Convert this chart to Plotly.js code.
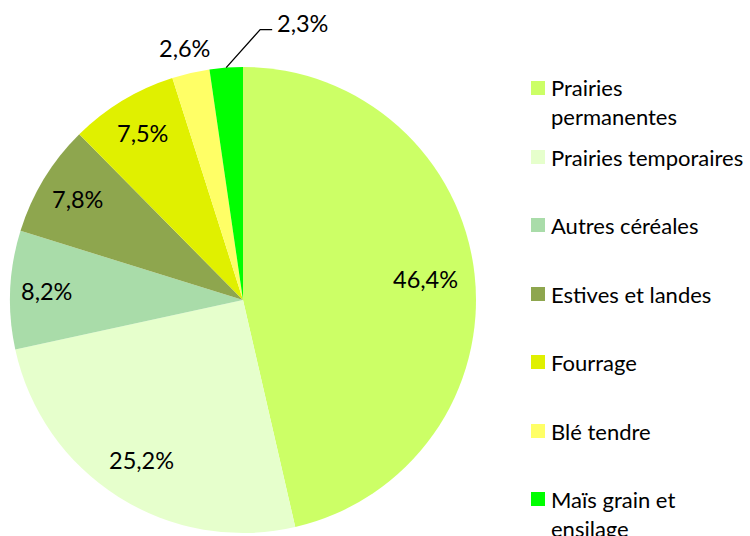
<!DOCTYPE html>
<html><head><meta charset="utf-8">
<script src="https://cdn.plot.ly/plotly-3.0.1.min.js"></script>
<style>body{margin:0;background:#fff}#c{width:750px;height:536px}</style>
</head><body><div id="c"></div>
<script>
const categories = ["Prairies permanentes","Prairies temporaires","Autres céréales","Estives et landes","Fourrage","Blé tendre","Maïs grain et ensilage"];
const legendLabels = ["Prairies<br>permanentes","Prairies temporaires","Autres céréales","Estives et landes","Fourrage","Blé tendre","Maïs grain et<br>ensilage"];
const shares = [46.4, 25.2, 8.2, 7.8, 7.5, 2.6, 2.3];
const colors = ["#CCFF66","#E6FFCC","#A9DCA9","#8EA64E","#E0F000","#FFFF66","#00FF00"];

// style: label radius as fraction of pie radius
const labelRadius = [0.79, 0.815, 0.845, 0.83, 0.835, 1.11, 1.0];
const W = 750, H = 536;
const cx = 243, cy = 300, R = 233;
const FONT = "Lato, 'Open Sans', sans-serif";

const total = shares.reduce((a,b)=>a+b,0);
const fmt = v => v.toFixed(1).replace('.', ',') + '%';

const annotations = [];
const shapes = [];
let cum = 0;
shares.forEach((v,i)=>{
  const mid = (cum + v/2)/total * 2*Math.PI;
  cum += v;
  let r = labelRadius[i]*R;
  let x = cx + r*Math.sin(mid), y = cy - r*Math.cos(mid);
  let xa = 'center';
  if (i === shares.length-1) {
    const ex = cx + R*Math.sin(mid), ey = cy - R*Math.cos(mid);
    const kx = ex + 34, ky = ey - 38;
    shapes.push({type:'path', xref:'paper', yref:'paper',
      path:`M ${ex/W} ${1-ey/H} L ${kx/W} ${1-ky/H} L ${(kx+12)/W} ${1-ky/H}`,
      line:{color:'#000', width:1.3}});
    x = kx + 15; y = ky - 7; xa = 'left';
  }
  annotations.push({xref:'paper', yref:'paper', x:x/W, y:1-y/H, text:fmt(v), showarrow:false,
    font:{family:FONT, size:23.5, color:'#000'}, xanchor:xa, yanchor:'middle'});
});

// custom legend
const legY = [88, 157, 225, 294, 362, 431, 499];
categories.forEach((c,i)=>{
  const y = legY[i];
  shapes.push({type:'rect', xref:'paper', yref:'paper', x0:531/W, x1:545/W, y0:1-(y+7)/H, y1:1-(y-7)/H,
    fillcolor:colors[i], line:{width:0}});
  annotations.push({xref:'paper', yref:'paper', x:549/W, y:1-(y-15.5)/H, text:legendLabels[i], showarrow:false,
    xanchor:'left', yanchor:'top', align:'left', font:{family:FONT, size:22, color:'#000'}});
});

const data = [{
  type:'pie', labels:categories, values:shares, sort:false, direction:'clockwise', rotation:0,
  marker:{colors:colors, line:{width:0}}, textinfo:'none', hoverinfo:'label+percent',
  domain:{x:[(cx-R)/W,(cx+R)/W], y:[1-(cy+R)/H, 1-(cy-R)/H]}
}];
const layout = {width:W, height:H, margin:{l:0,r:0,t:0,b:0}, showlegend:false,
  paper_bgcolor:'#fff', separators:', ', annotations, shapes, font:{family:FONT}};
Plotly.newPlot('c', data, layout, {displayModeBar:false, staticPlot:true});
</script></body></html>
